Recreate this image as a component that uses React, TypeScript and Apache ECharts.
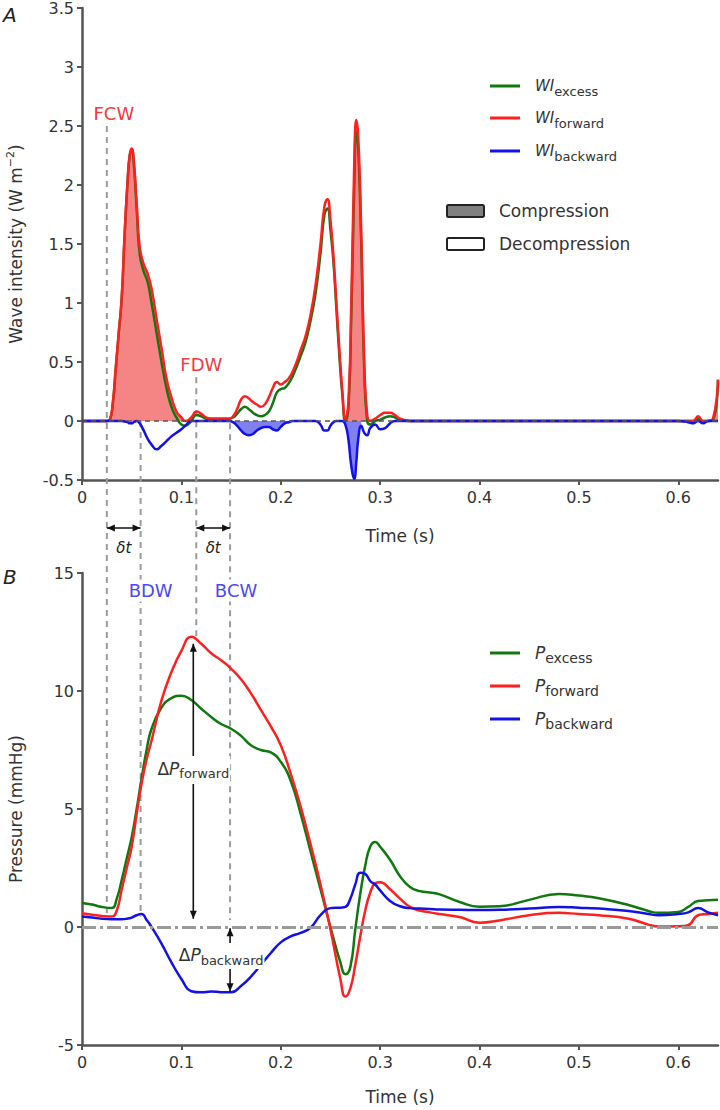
import { useEffect, useRef } from 'react';
import * as echarts from 'echarts';

// ---------------- Panel A: wave intensity (W m^-2) ----------------
const wiTime = [
  0, 0.01, 0.02, 0.025, 0.028, 0.031, 0.034, 0.037, 0.04, 0.043,
  0.046, 0.048, 0.05, 0.052, 0.055, 0.058, 0.062, 0.066, 0.07, 0.075,
  0.08, 0.085, 0.09, 0.095, 0.1, 0.104, 0.11, 0.115, 0.12, 0.125,
  0.13, 0.14, 0.148, 0.152, 0.156, 0.16, 0.164, 0.168, 0.172, 0.176,
  0.18, 0.184, 0.188, 0.192, 0.196, 0.2, 0.204, 0.208, 0.212, 0.216,
  0.22, 0.225, 0.23, 0.235, 0.24, 0.244, 0.247, 0.25, 0.253, 0.256,
  0.259, 0.262, 0.265, 0.268, 0.271, 0.274, 0.276, 0.278, 0.281, 0.284,
  0.287, 0.29, 0.295, 0.3, 0.305, 0.31, 0.315, 0.32, 0.33, 0.35,
  0.4, 0.45, 0.5, 0.55, 0.6, 0.61, 0.615, 0.62, 0.625, 0.63,
  0.635, 0.64,
];
const wiForward = [
  0, 0, 0, 0, 0.01, 0.15, 0.45, 0.75, 1.05, 1.6,
  2.05, 2.25, 2.31, 2.22, 1.85, 1.48, 1.33, 1.25, 1.12, 0.87,
  0.62, 0.36, 0.2, 0.08, 0.03, 0.0, 0.03, 0.08, 0.06, 0.03,
  0.02, 0.02, 0.02, 0.04, 0.1, 0.18, 0.21, 0.19, 0.16, 0.14,
  0.12, 0.14, 0.2, 0.28, 0.33, 0.31, 0.33, 0.36, 0.42, 0.5,
  0.6, 0.72, 0.9, 1.15, 1.5, 1.82, 1.88, 1.7, 1.4, 1.0,
  0.6, 0.25, 0.02, 0.15, 1.0, 2.2, 2.55, 2.4, 1.6, 0.5,
  0.05, 0.0, 0.02, 0.05, 0.07, 0.07, 0.05, 0.02, 0, 0,
  0, 0, 0, 0, 0, 0, 0, 0.04, 0, 0,
  0.02, 0.35,
];
const wiExcess = [
  0, 0, 0, 0, 0.01, 0.15, 0.45, 0.75, 1.05, 1.6,
  2.05, 2.25, 2.3, 2.2, 1.8, 1.42, 1.27, 1.18, 1.0, 0.75,
  0.5, 0.28, 0.12, 0.03, -0.03, -0.04, 0.0, 0.05, 0.04, 0.02,
  0.02, 0.02, 0.02, 0.03, 0.06, 0.1, 0.12, 0.1, 0.07, 0.05,
  0.04, 0.05, 0.08, 0.15, 0.24, 0.27, 0.28, 0.32, 0.38, 0.46,
  0.55, 0.67, 0.85, 1.08, 1.42, 1.75, 1.8, 1.62, 1.35, 0.95,
  0.55, 0.22, 0.0, 0.1, 0.9, 2.0, 2.45, 2.3, 1.5, 0.45,
  0.0, -0.03, 0.0, 0.01, 0.03, 0.04, 0.03, 0.01, 0, 0,
  0, 0, 0, 0, 0, 0, 0, 0.02, 0, 0,
  0.01, 0.35,
];
const wiBackward = [
  0, 0, 0, 0, 0, 0, 0, 0, 0, -0.005,
  -0.01, -0.02, -0.02, -0.01, 0, -0.02, -0.08, -0.15, -0.2, -0.24,
  -0.21, -0.17, -0.13, -0.1, -0.07, -0.04, 0, 0, 0, 0,
  0, 0, 0, -0.01, -0.04, -0.08, -0.11, -0.12, -0.11, -0.08,
  -0.06, -0.05, -0.05, -0.07, -0.08, -0.05, -0.02, -0.01, 0, 0,
  0, 0, 0, 0, -0.03, -0.08, -0.08, -0.04, -0.01, 0,
  0, 0, -0.03, -0.15, -0.38, -0.49, -0.35, -0.15, -0.04, -0.1,
  -0.12, -0.06, -0.03, -0.07, -0.06, -0.02, 0, 0, 0, 0,
  0, 0, 0, 0, 0, -0.01, -0.02, 0, -0.02, 0,
  0, 0,
];
// time windows (s) whose compression waves are shaded
const forwardCompressionWindows = [[0.028, 0.104], [0.265, 0.29], [0.63, 0.64]];
const backwardCompressionWindows = [[0.148, 0.22], [0.259, 0.281]];

// ---------------- Panel B: pressure (mmHg) ----------------
const pTime = [
  0, 0.01, 0.02, 0.03, 0.035, 0.04, 0.045, 0.05, 0.055, 0.06,
  0.065, 0.07, 0.08, 0.09, 0.1, 0.11, 0.12, 0.13, 0.14, 0.15,
  0.16, 0.17, 0.18, 0.19, 0.2, 0.21, 0.22, 0.23, 0.24, 0.25,
  0.26, 0.265, 0.27, 0.275, 0.28, 0.285, 0.29, 0.295, 0.3, 0.31,
  0.32, 0.33, 0.34, 0.35, 0.36, 0.38, 0.4, 0.42, 0.45, 0.48,
  0.5, 0.52, 0.55, 0.57, 0.58, 0.6, 0.61, 0.62, 0.63, 0.64,
];
const pForward = [
  0.58, 0.52, 0.47, 0.44, 0.7, 1.6, 2.5, 3.4, 4.8, 6.1,
  7.1, 7.9, 9.6, 10.8, 11.7, 12.3, 12.0, 11.6, 11.3, 10.95,
  10.5, 9.9, 9.2, 8.5, 7.7, 6.5, 5.1, 3.5, 1.8, -0.1,
  -2.2, -2.95, -2.6, -1.6, -0.4, 0.7, 1.45, 1.85, 1.9, 1.6,
  1.2, 0.85, 0.7, 0.62, 0.55, 0.42, 0.18, 0.28, 0.5, 0.6,
  0.55, 0.5, 0.35, 0.1, 0.02, 0.03, 0.08, 0.5, 0.55, 0.6,
];
const pExcess = [
  1.02, 0.95, 0.85, 0.8, 1.2, 2.0, 2.9, 3.8, 5.0, 6.3,
  7.5, 8.4, 9.3, 9.7, 9.8, 9.62, 9.25, 8.9, 8.6, 8.4,
  8.1, 7.7, 7.5, 7.4, 7.0, 6.2, 4.8, 3.2, 1.6, 0.0,
  -1.5, -2.0, -1.7, -0.1, 1.4, 2.6, 3.4, 3.6, 3.4, 2.85,
  2.15, 1.7, 1.52, 1.46, 1.38, 1.06, 0.86, 0.88, 1.15, 1.4,
  1.33, 1.22, 0.93, 0.68, 0.6, 0.64, 0.85, 1.1, 1.13, 1.15,
];
const pBackward = [
  0.44, 0.4, 0.35, 0.33, 0.33, 0.33, 0.35, 0.4, 0.5, 0.55,
  0.3, 0.0, -0.7, -1.5, -2.2, -2.72, -2.77, -2.73, -2.76, -2.77,
  -2.5, -2.1, -1.6, -1.1, -0.65, -0.4, -0.25, -0.03, 0.5, 0.8,
  0.82, 0.85, 1.2, 1.8, 2.3, 2.25, 1.95, 1.8, 1.55, 1.1,
  0.88, 0.8, 0.78, 0.76, 0.74, 0.73, 0.72, 0.73, 0.78, 0.85,
  0.82, 0.78, 0.68, 0.55, 0.5, 0.55, 0.62, 0.8, 0.62, 0.5,
];

// ---------------- axes / labels ----------------
const timeTicks = [0, 0.1, 0.2, 0.3, 0.4, 0.5, 0.6];
const wiRange = [-0.5, 3.5];
const wiStep = 0.5;
const pRange = [-5, 15];
const pStep = 5;
const seriesKeys = ['excess', 'forward', 'backward'];

// wave markers (s)
const waveNames = ['FCW', 'BDW', 'FDW', 'BCW'];
const waveTimes = [0.025, 0.059, 0.115, 0.149];
const deltaPForwardTime = 0.112;
const deltaPForwardRange = [0.35, 12.0];
const deltaPBackwardRange = [-0.05, -2.72];

const FONT = 'DejaVu Sans';
const COLORS: Record<string, string> = { excess: '#10780f', forward: '#ff1f1f', backward: '#1212e6' };
const RED_FILL = '#f58484';
const BLUE_FILL = '#8080f0';
const RED_TEXT = '#f03c3c';
const BLUE_TEXT = '#4a4af0';
const AXIS = '#555';
const TXT = '#333';
const SMOOTH = 0.5;

const zip = (t: number[], v: number[]) => t.map((x, i) => [x, v[i]]);
const inWin = (x: number, w: number[][]) => w.some(([a, b]) => x >= a - 1e-9 && x <= b + 1e-9);

function lineSeries(gi: number, t: number[], v: number[], color: string, extra: any = {}) {
  return {
    type: 'line', xAxisIndex: gi, yAxisIndex: gi, data: zip(t, v),
    showSymbol: false, symbol: 'none', smooth: SMOOTH,
    lineStyle: { color, width: 2.5 }, itemStyle: { color }, z: 3, silent: true,
    ...extra,
  };
}
function fillSeries(t: number[], v: number[], win: number[][], color: string) {
  return {
    type: 'line', xAxisIndex: 0, yAxisIndex: 0,
    data: zip(t, v).map(([x, y]) => (inWin(x, win) ? [x, y] : [x, '-'])),
    showSymbol: false, symbol: 'none', smooth: SMOOTH,
    lineStyle: { width: 0, opacity: 0 }, areaStyle: { color, opacity: 1 }, z: 1, silent: true,
  };
}

function xAxis(gi: number, nameGap: number) {
  return {
    type: 'value', gridIndex: gi, min: 0, max: 0.64, interval: 0.1,
    axisLine: { show: true, onZero: false, lineStyle: { color: AXIS, width: 2.5 } },
    axisTick: { show: true, length: 5, customValues: timeTicks, lineStyle: { color: AXIS, width: 2 } },
    axisLabel: { customValues: timeTicks, fontSize: 16, color: TXT, fontFamily: FONT, margin: 9, formatter: (v: number) => String(v) },
    splitLine: { show: false },
    name: 'Time (s)', nameLocation: 'middle', nameGap,
    nameTextStyle: { fontSize: 17, color: TXT, fontFamily: FONT },
  };
}
function yAxis(gi: number, range: number[], step: number, name: string, nameGap: number) {
  return {
    type: 'value', gridIndex: gi, min: range[0], max: range[1], interval: step,
    axisLine: { show: true, onZero: false, lineStyle: { color: AXIS, width: 2.5 } },
    axisTick: { show: true, length: 5, lineStyle: { color: AXIS, width: 2 } },
    axisLabel: { fontSize: 16, color: TXT, fontFamily: FONT, margin: 8, formatter: (v: number) => String(v) },
    splitLine: { show: false },
    name, nameLocation: 'middle', nameGap,
    nameTextStyle: {
      fontSize: 17, color: TXT, fontFamily: FONT, lineHeight: 22,
      rich: { sup: { fontSize: 11, fontFamily: FONT, color: TXT, lineHeight: 11, verticalAlign: 'top' } },
    },
  };
}

function buildOption() {
  const zeroTop = {
    silent: true, symbol: ['none', 'none'], label: { show: false },
    lineStyle: { type: [5, 4], color: '#555', width: 1.5 }, data: [{ yAxis: 0 }],
  };
  const zeroBottom = {
    silent: true, symbol: ['none', 'none'], label: { show: false },
    lineStyle: { type: [14, 4, 3, 4], color: '#9a9a9a', width: 3 }, data: [{ yAxis: 0 }],
  };
  return {
    animation: false,
    grid: [
      { left: 82, top: 8, width: 636, height: 472, outerBoundsMode: 'none' },
      { left: 82, top: 573, width: 636, height: 472, outerBoundsMode: 'none' },
    ],
    xAxis: [xAxis(0, 47), xAxis(1, 43)],
    yAxis: [
      yAxis(0, wiRange, wiStep, 'Wave intensity (W m{sup|−2})', 55),
      yAxis(1, pRange, pStep, 'Pressure (mmHg)', 55),
    ],
    series: [
      fillSeries(wiTime, wiForward, forwardCompressionWindows, RED_FILL),
      fillSeries(wiTime, wiBackward, backwardCompressionWindows, BLUE_FILL),
      lineSeries(0, wiTime, wiExcess, COLORS.excess, { markLine: zeroTop }),
      lineSeries(0, wiTime, wiForward, COLORS.forward),
      lineSeries(0, wiTime, wiBackward, COLORS.backward),
      lineSeries(1, pTime, pExcess, COLORS.excess, { markLine: zeroBottom }),
      lineSeries(1, pTime, pForward, COLORS.forward),
      lineSeries(1, pTime, pBackward, COLORS.backward),
    ],
  };
}

let measureCtx: CanvasRenderingContext2D | null = null;
function measure(text: string, size: number, italic?: boolean) {
  if (!measureCtx) measureCtx = document.createElement('canvas').getContext('2d');
  measureCtx!.font = `${italic ? 'italic ' : ''}${size}px "${FONT}"`;
  return measureCtx!.measureText(text).width;
}
type Part = { text: string; size: number; italic?: boolean; dy?: number };
function composite(parts: Part[], x: number, y: number, anchor: 'left' | 'center', color: string, z: number) {
  const widths = parts.map((p) => measure(p.text, p.size, p.italic));
  const total = widths.reduce((a, b) => a + b, 0);
  const left = anchor === 'center' ? x - total / 2 : x;
  let cx = left;
  const els = parts.map((p, i) => {
    const e = {
      type: 'text', x: cx, y: y + (p.dy || 0), z, silent: true,
      style: {
        text: p.text, fontSize: p.size, fontFamily: FONT, fontStyle: p.italic ? 'italic' : 'normal', fill: color,
        align: 'left', verticalAlign: 'middle', textAlign: 'left', textVerticalAlign: 'middle',
      },
    };
    cx += widths[i];
    return e;
  });
  return { els, left, width: total };
}
function arrow(x1: number, y1: number, x2: number, y2: number, start: boolean, end: boolean, z: number) {
  const dx = x2 - x1, dy = y2 - y1;
  const L = Math.hypot(dx, dy);
  const ux = dx / L, uy = dy / L;
  const len = 8, half = 3.5;
  const head = (tx: number, ty: number, px: number, py: number) => ({
    type: 'polygon', z, silent: true,
    shape: { points: [[tx, ty], [tx - px * len - py * half, ty - py * len + px * half], [tx - px * len + py * half, ty - py * len - px * half]] },
    style: { fill: '#111' },
  });
  const els: any[] = [{ type: 'line', z, silent: true, shape: { x1, y1, x2, y2 }, style: { stroke: '#111', lineWidth: 1.6 } }];
  if (start) els.push(head(x1, y1, -ux, -uy));
  if (end) els.push(head(x2, y2, ux, uy));
  return els;
}

function buildGraphics(chart: echarts.ECharts) {
  const P = (g: number, t: number, v: number) => chart.convertToPixel({ gridIndex: g }, [t, v]) as number[];
  const xOf = (t: number) => P(0, t, 0)[0];
  const yA = (v: number) => P(0, 0, v)[1];
  const yB = (v: number) => P(1, 0, v)[1];
  const els: any[] = [];

  // marker layout: [top-panel start value, bottom-panel end value, label panel, label value, label dx]
  const layout: Record<string, [number, number, number, number, number]> = {
    FCW: [2.5, 0.4, 0, 2.61, 7],
    BDW: [0, 0.45, 1, 14.26, 10],
    FDW: [0.37, 12.2, 0, 0.475, 5],
    BCW: [-0.02, 0.3, 1, 14.26, 6],
  };
  waveNames.forEach((name, i) => {
    const x = xOf(waveTimes[i]);
    const [fromV, toV, lp, lv, ldx] = layout[name];
    els.push({
      type: 'line', z: 1, silent: true,
      shape: { x1: x, y1: yA(fromV), x2: x, y2: yB(toV) },
      style: { stroke: '#9b9b9b', lineWidth: 2, lineDash: [6, 5] },
    });
    const color = name[0] === 'F' ? RED_TEXT : BLUE_TEXT;
    const ly = lp === 0 ? yA(lv) : yB(lv);
    const w = measure(name, 18);
    els.push({ type: 'rect', z: 9, silent: true, shape: { x: x + ldx - w / 2 - 2, y: ly - 11, width: w + 4, height: 22 }, style: { fill: '#fff' } });
    els.push({
      type: 'text', x: x + ldx, y: ly, z: 10, silent: true,
      style: { text: name, fontSize: 18, fontFamily: FONT, fill: color, align: 'center', verticalAlign: 'middle', textAlign: 'center', textVerticalAlign: 'middle' },
    });
  });

  // δt double arrows below panel A
  const dtY = yA(-0.907);
  const dtTextY = yA(-1.076);
  [[0, 1], [2, 3]].forEach(([a, b]) => {
    const xa = xOf(waveTimes[a]), xb = xOf(waveTimes[b]);
    els.push(...arrow(xa, dtY, xb, dtY, true, true, 10));
    els.push(...composite([{ text: 'δt', size: 15, italic: true }], (xa + xb) / 2, dtTextY, 'center', '#222', 10).els);
  });

  // ΔP forward
  {
    const x = xOf(deltaPForwardTime);
    els.push(...arrow(x, yB(deltaPForwardRange[1]), x, yB(deltaPForwardRange[0]), true, true, 10));
    const c = composite([{ text: 'Δ', size: 17 }, { text: 'P', size: 17, italic: true }, { text: 'forward', size: 13, dy: 5 }], x, yB(6.7), 'center', '#333', 12);
    els.push({ type: 'rect', z: 11, silent: true, shape: { x: c.left - 1, y: yB(6.7) - 13, width: c.width + 2, height: 28 }, style: { fill: '#fff' } });
    els.push(...c.els);
  }
  // ΔP backward
  {
    const x = xOf(waveTimes[3]);
    els.push(...arrow(x, yB(deltaPBackwardRange[0]), x, yB(deltaPBackwardRange[1]), true, true, 10));
    const cx = xOf(0.14);
    const cy = yB(-1.19);
    const c = composite([{ text: 'Δ', size: 17 }, { text: 'P', size: 17, italic: true }, { text: 'backward', size: 13, dy: 5 }], cx, cy, 'center', '#333', 12);
    els.push({ type: 'rect', z: 11, silent: true, shape: { x: c.left - 1, y: cy - 12, width: c.width + 2, height: 26 }, style: { fill: '#fff' } });
    els.push(...c.els);
  }

  // legends
  const legend = (ys: number[], main: string, mainSize: number, subSize: number) => {
    seriesKeys.forEach((k, i) => {
      els.push({ type: 'line', z: 10, silent: true, shape: { x1: 490, y1: ys[i], x2: 520, y2: ys[i] }, style: { stroke: COLORS[k], lineWidth: 3 } });
      els.push(...composite([{ text: main, size: mainSize, italic: true }, { text: k, size: subSize, dy: 5 }], 535, ys[i], 'left', TXT, 10).els);
    });
  };
  legend([86, 118, 151], 'WI', 15, 13);
  legend([653, 686, 719], 'P', 17, 14);

  // compression boxes
  [['Compression', '#808080', 211], ['Decompression', '#ffffff', 244]].forEach(([label, fill, y]) => {
    els.push({ type: 'rect', z: 10, silent: true, shape: { x: 447, y: (y as number) - 6, width: 37, height: 12, r: 1.5 }, style: { fill, stroke: '#222', lineWidth: 2 } });
    els.push({
      type: 'text', x: 499, y, z: 10, silent: true,
      style: { text: label, fontSize: 17, fontFamily: FONT, fill: TXT, align: 'left', verticalAlign: 'middle', textAlign: 'left', textVerticalAlign: 'middle' },
    });
  });

  // panel letters
  [['A', 15], ['B', 577]].forEach(([t, y]) => {
    els.push({
      type: 'text', x: 3, y, z: 10, silent: true,
      style: { text: t, fontSize: 20, fontStyle: 'italic', fontFamily: FONT, fill: '#222', align: 'left', verticalAlign: 'middle', textAlign: 'left', textVerticalAlign: 'middle' },
    });
  });
  return els;
}

export default function App() {
  const ref = useRef<HTMLDivElement>(null);
  useEffect(() => {
    document.body.style.margin = '0';
    const el = ref.current!;
    const chart = echarts.init(el, null, { renderer: 'svg' });
    chart.setOption(buildOption() as any);
    chart.setOption({ graphic: buildGraphics(chart) } as any);
    return () => chart.dispose();
  }, []);
  return <div ref={ref} style={{ width: 720, height: 1110 }} />;
}
